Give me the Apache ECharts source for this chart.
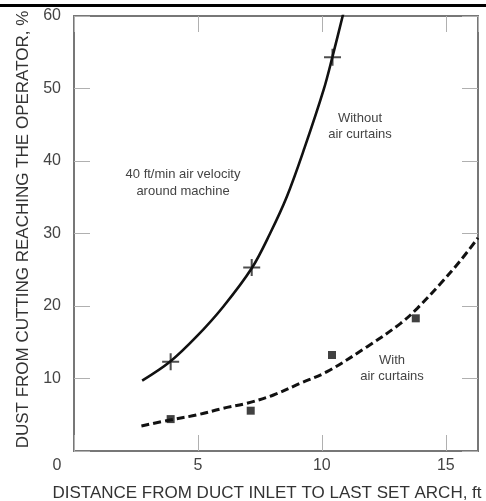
<!DOCTYPE html>
<html><head><meta charset="utf-8">
<script src="https://cdn.jsdelivr.net/npm/echarts@6/dist/echarts.min.js"></script>
<style>html,body{margin:0;padding:0;background:#fff}#c{width:486px;height:501px}</style>
</head><body><div id="c"></div>
<script>
// Tick labels
const xTicks = [0, 5, 10, 15];
const yTicks = [10, 20, 30, 40, 50, 60];
// Fitted curve: without air curtains (solid)
const withoutCurveX = [2.75, 3.87, 4.95, 6.02, 7.17, 7.91, 8.59, 9.3, 10.07, 10.43, 10.84, 10.9];
const withoutCurveY = [9.7, 12.3, 15.8, 19.9, 25.2, 30.0, 35.1, 41.8, 49.8, 54.4, 60.0, 60.8];
// Measured points: without air curtains (+)
const withoutPtsX = [3.9, 7.17, 10.43];
const withoutPtsY = [12.3, 25.3, 54.3];
// Fitted curve: with air curtains (dashed)
const withCurveX = [2.72, 3.87, 4.95, 6.02, 6.97, 8.05, 9.13, 10.21, 11.83, 13.18, 13.85, 14.8, 15.61, 16.3];
const withCurveY = [3.45, 4.28, 4.97, 5.89, 6.58, 7.72, 9.34, 10.94, 14.39, 17.61, 19.68, 23.13, 26.34, 29.4];
// Measured points: with air curtains (squares)
const withPtsX = [3.9, 7.13, 10.41, 13.79];
const withPtsY = [4.4, 5.56, 13.24, 18.3];
// Texts
const xName = 'DISTANCE FROM DUCT INLET TO LAST SET ARCH, ft';
const yName = 'DUST FROM CUTTING REACHING THE OPERATOR, %';
const noteVelocity = '40 ft/min air velocity\naround machine';
const noteWithout = 'Without\nair curtains';
const noteWith = 'With\nair curtains';

const zip = (a, b) => a.map((v, i) => [v, b[i]]);
const plusPath = 'path://M4.4,0H5.6V4.4H10V5.6H5.6V10H4.4V5.6H0V4.4H4.4Z';
const FONT = 'Liberation Sans, Arial, Helvetica, sans-serif';

const chart = echarts.init(document.getElementById('c'));
const tick = () => ({ show: true, inside: true, length: 16, lineStyle: { color: '#b0b0b0', width: 1 } });
const noLine = () => ({ show: false, onZero: false });
chart.setOption({
  animation: false,
  grid: { left: 74, right: 8, top: 16, bottom: 50, show: true, borderColor: '#777', borderWidth: 2,
    backgroundColor: '#fff', containLabel: false, outerBoundsMode: 'none' },
  xAxis: [{
    type: 'value', min: 0, max: 16.3, interval: 5, position: 'bottom',
    axisLine: noLine(), splitLine: { show: false },
    axisTick: tick(),
    axisLabel: {
      color: '#444', fontSize: 16, fontFamily: FONT, margin: 7, showMaxLabel: false,
      formatter: v => xTicks.includes(v) ? (v === 0 ? '{z|0}' : String(v)) : '',
      rich: { z: { color: '#444', fontSize: 16, fontFamily: FONT, padding: [0, 34, 0, 0] } }
    },
    name: xName, nameLocation: 'middle', nameGap: 34,
    nameTextStyle: { color: '#333', fontSize: 17, fontFamily: FONT, padding: [0, 18, 0, 0] }
  }, {
    type: 'value', min: 0, max: 16.3, interval: 5, position: 'top',
    axisLine: noLine(), splitLine: { show: false },
    axisTick: tick(), axisLabel: { show: false }
  }],
  yAxis: [{
    type: 'value', min: 0, max: 60, interval: 10, position: 'left',
    axisLine: noLine(), splitLine: { show: false },
    axisTick: tick(),
    axisLabel: { color: '#444', fontSize: 16, fontFamily: FONT, margin: 13,
      formatter: v => yTicks.includes(v) ? String(v) : '' },
    name: yName, nameLocation: 'middle', nameRotate: 90, nameGap: 42,
    nameTextStyle: { color: '#333', fontSize: 17, fontFamily: FONT, padding: [0, 0, 0, 8] }
  }, {
    type: 'value', min: 0, max: 60, interval: 10, position: 'right',
    axisLine: noLine(), splitLine: { show: false },
    axisTick: tick(), axisLabel: { show: false }
  }],
  series: [
    { type: 'line', data: zip(withoutCurveX, withoutCurveY), smooth: 0.35, showSymbol: false, clip: true,
      lineStyle: { color: '#111', width: 2.6 } },
    { type: 'scatter', data: zip(withoutPtsX, withoutPtsY), symbol: plusPath, symbolSize: 17,
      itemStyle: { color: '#222' } },
    { type: 'line', data: zip(withCurveX, withCurveY), smooth: 0.35, showSymbol: false, clip: true,
      lineStyle: { color: '#111', width: 3, type: [8, 4] } },
    { type: 'scatter', data: zip(withPtsX, withPtsY), symbol: 'rect', symbolSize: 8,
      itemStyle: { color: '#111' } }
  ],
  graphic: [
    { type: 'rect', left: 0, top: 4, shape: { width: 486, height: 3 }, style: { fill: '#000' }, z: 100 },
    { type: 'text', x: 183, y: 183, style: { text: noteVelocity, fill: '#444', font: '13px ' + FONT, textAlign: 'center', textVerticalAlign: 'middle', lineHeight: 17 }, z: 50 },
    { type: 'text', x: 360, y: 126, style: { text: noteWithout, fill: '#444', font: '13px ' + FONT, textAlign: 'center', textVerticalAlign: 'middle', lineHeight: 16 }, z: 50 },
    { type: 'text', x: 392, y: 368, style: { text: noteWith, fill: '#444', font: '13px ' + FONT, textAlign: 'center', textVerticalAlign: 'middle', lineHeight: 16 }, z: 50 }
  ]
});
</script></body></html>
